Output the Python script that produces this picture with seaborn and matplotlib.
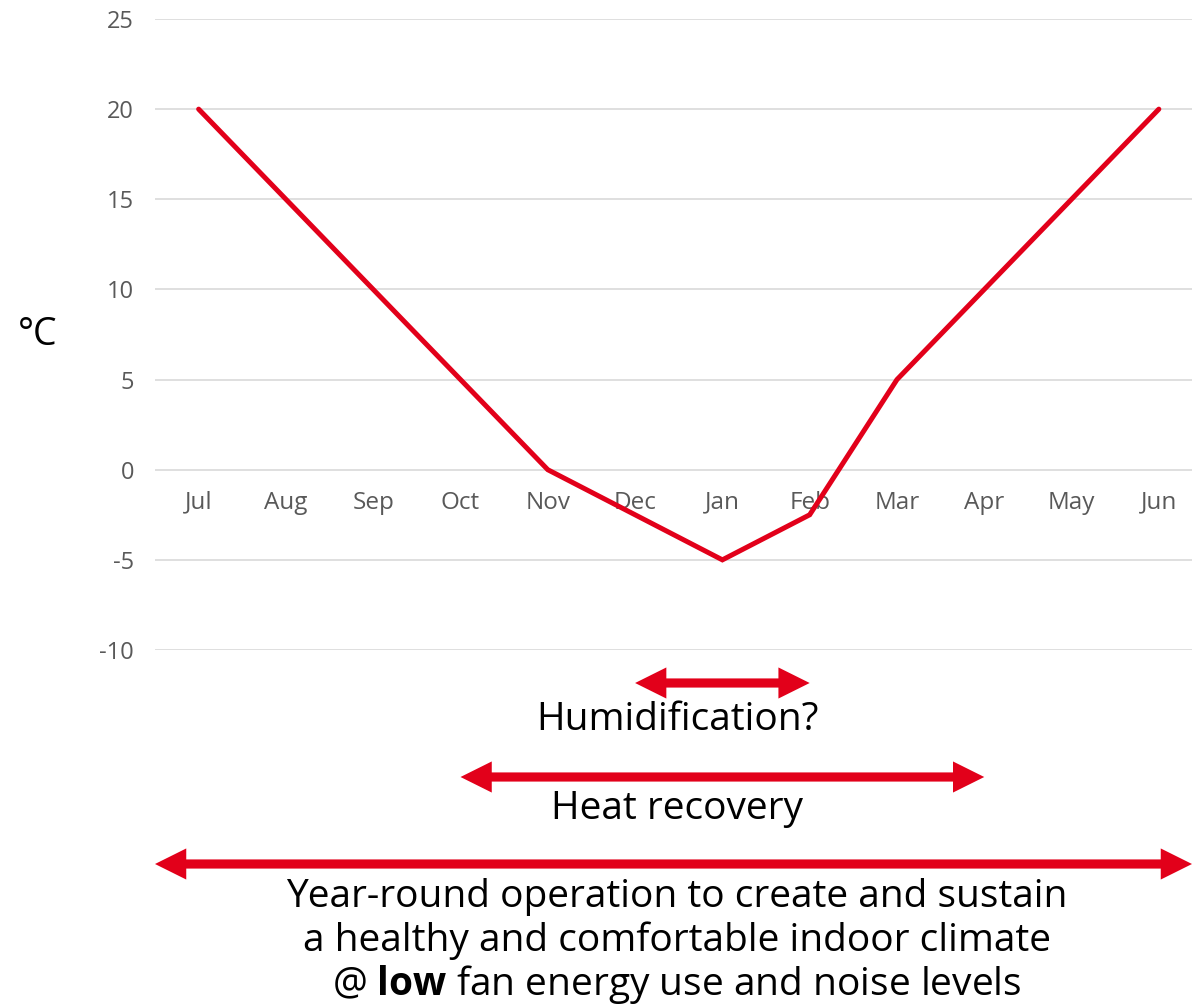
import matplotlib
matplotlib.use("Agg")
import matplotlib.pyplot as plt
import pandas as pd
import seaborn as sns

MONTHS = ["Jul", "Aug", "Sep", "Oct", "Nov", "Dec", "Jan", "Feb", "Mar", "Apr", "May", "Jun"]
TEMPS = [20, 15, 10, 5, 0, -2.5, -5, -2.5, 5, 10, 15, 20]
Y_TICKS = [-10, -5, 0, 5, 10, 15, 20, 25]

SPAN_LABELS = ["Humidification?", "Heat recovery"]
SPAN_STARTS = ["Dec", "Oct"]
SPAN_ENDS = ["Feb", "Apr"]
FOOTER = ["Year-round operation to create and sustain",
          "a healthy and comfortable indoor climate",
          r"@ $\bf{low}$ fan energy use and noise levels"]

RED = "#e2001a"
GREY = "#595959"

sns.set_theme(style="white")
plt.rcParams["font.family"] = ["Open Sans", "DejaVu Sans"]
plt.rcParams["mathtext.fontset"] = "custom"
plt.rcParams["mathtext.rm"] = "Open Sans"
plt.rcParams["mathtext.bf"] = "Open Sans:bold"

frame = pd.DataFrame({"month": MONTHS, "temp": TEMPS})

fig = plt.figure(figsize=(11.92, 10.07), dpi=100)
ax = fig.add_axes([155 / 1192, 1 - 650 / 1007, 1 - 155 / 1192, (650 - 19) / 1007])

sns.lineplot(data=frame, x="month", y="temp", sort=False, color=RED,
             linewidth=3.6, solid_capstyle="round", solid_joinstyle="miter", ax=ax, zorder=3)

ax.set_ylim(-10, 25)
ax.set_xlim(-0.5, 11.38)
ax.set_yticks(Y_TICKS)
ax.set_yticklabels([str(v) for v in Y_TICKS])
ax.yaxis.grid(True, color="#d9d9d9", linewidth=1.2)
ax.xaxis.grid(False)
for side in ["top", "right", "left", "bottom"]:
    ax.spines[side].set_visible(False)
ax.spines["bottom"].set_position(("data", 0))
ax.tick_params(axis="y", length=0, pad=15, labelsize=17, labelcolor=GREY)
ax.tick_params(axis="x", length=0, pad=15, labelsize=17.5, labelcolor=GREY)
ax.set_xlabel("")
ax.set_ylabel("°C", rotation=0, fontsize=27, color="black", labelpad=0,
              ha="center", va="center")
ax.yaxis.set_label_coords(-0.113, 0.499)

COORDS = ("data", "figure fraction")


def double_arrow(x0, x1, y):
    # shaft as a plain thick line, heads as filled wedges on top
    ax.annotate("", xy=(x1, y), xytext=(x0, y), xycoords=COORDS, textcoords=COORDS,
                annotation_clip=False,
                arrowprops=dict(arrowstyle="-", lw=6.6, color=RED, capstyle="butt",
                                shrinkA=9, shrinkB=9))
    ax.annotate("", xy=(x1, y), xytext=(x0, y), xycoords=COORDS, textcoords=COORDS,
                annotation_clip=False,
                arrowprops=dict(arrowstyle="<|-|>,head_length=2.25,head_width=1.12",
                                mutation_scale=10, lw=0, color=RED,
                                shrinkA=0, shrinkB=0))


arrow_y = [1 - 683 / 1007, 1 - 777 / 1007]
text_y = [1 - 720 / 1007, 1 - 809 / 1007]
for label, start, end, ay, ty in zip(SPAN_LABELS, SPAN_STARTS, SPAN_ENDS, arrow_y, text_y):
    double_arrow(MONTHS.index(start), MONTHS.index(end), ay)
    fig.text(677 / 1192, ty, label, ha="center", va="center", fontsize=28, color="black")

double_arrow(-0.5, 11.38, 1 - 864 / 1007)
for i, line in enumerate(FOOTER):
    fig.text(677 / 1192, 1 - (897 + 44 * i) / 1007, line, ha="center", va="center",
             fontsize=28, color="black")

fig.savefig("out.png", dpi=100)
